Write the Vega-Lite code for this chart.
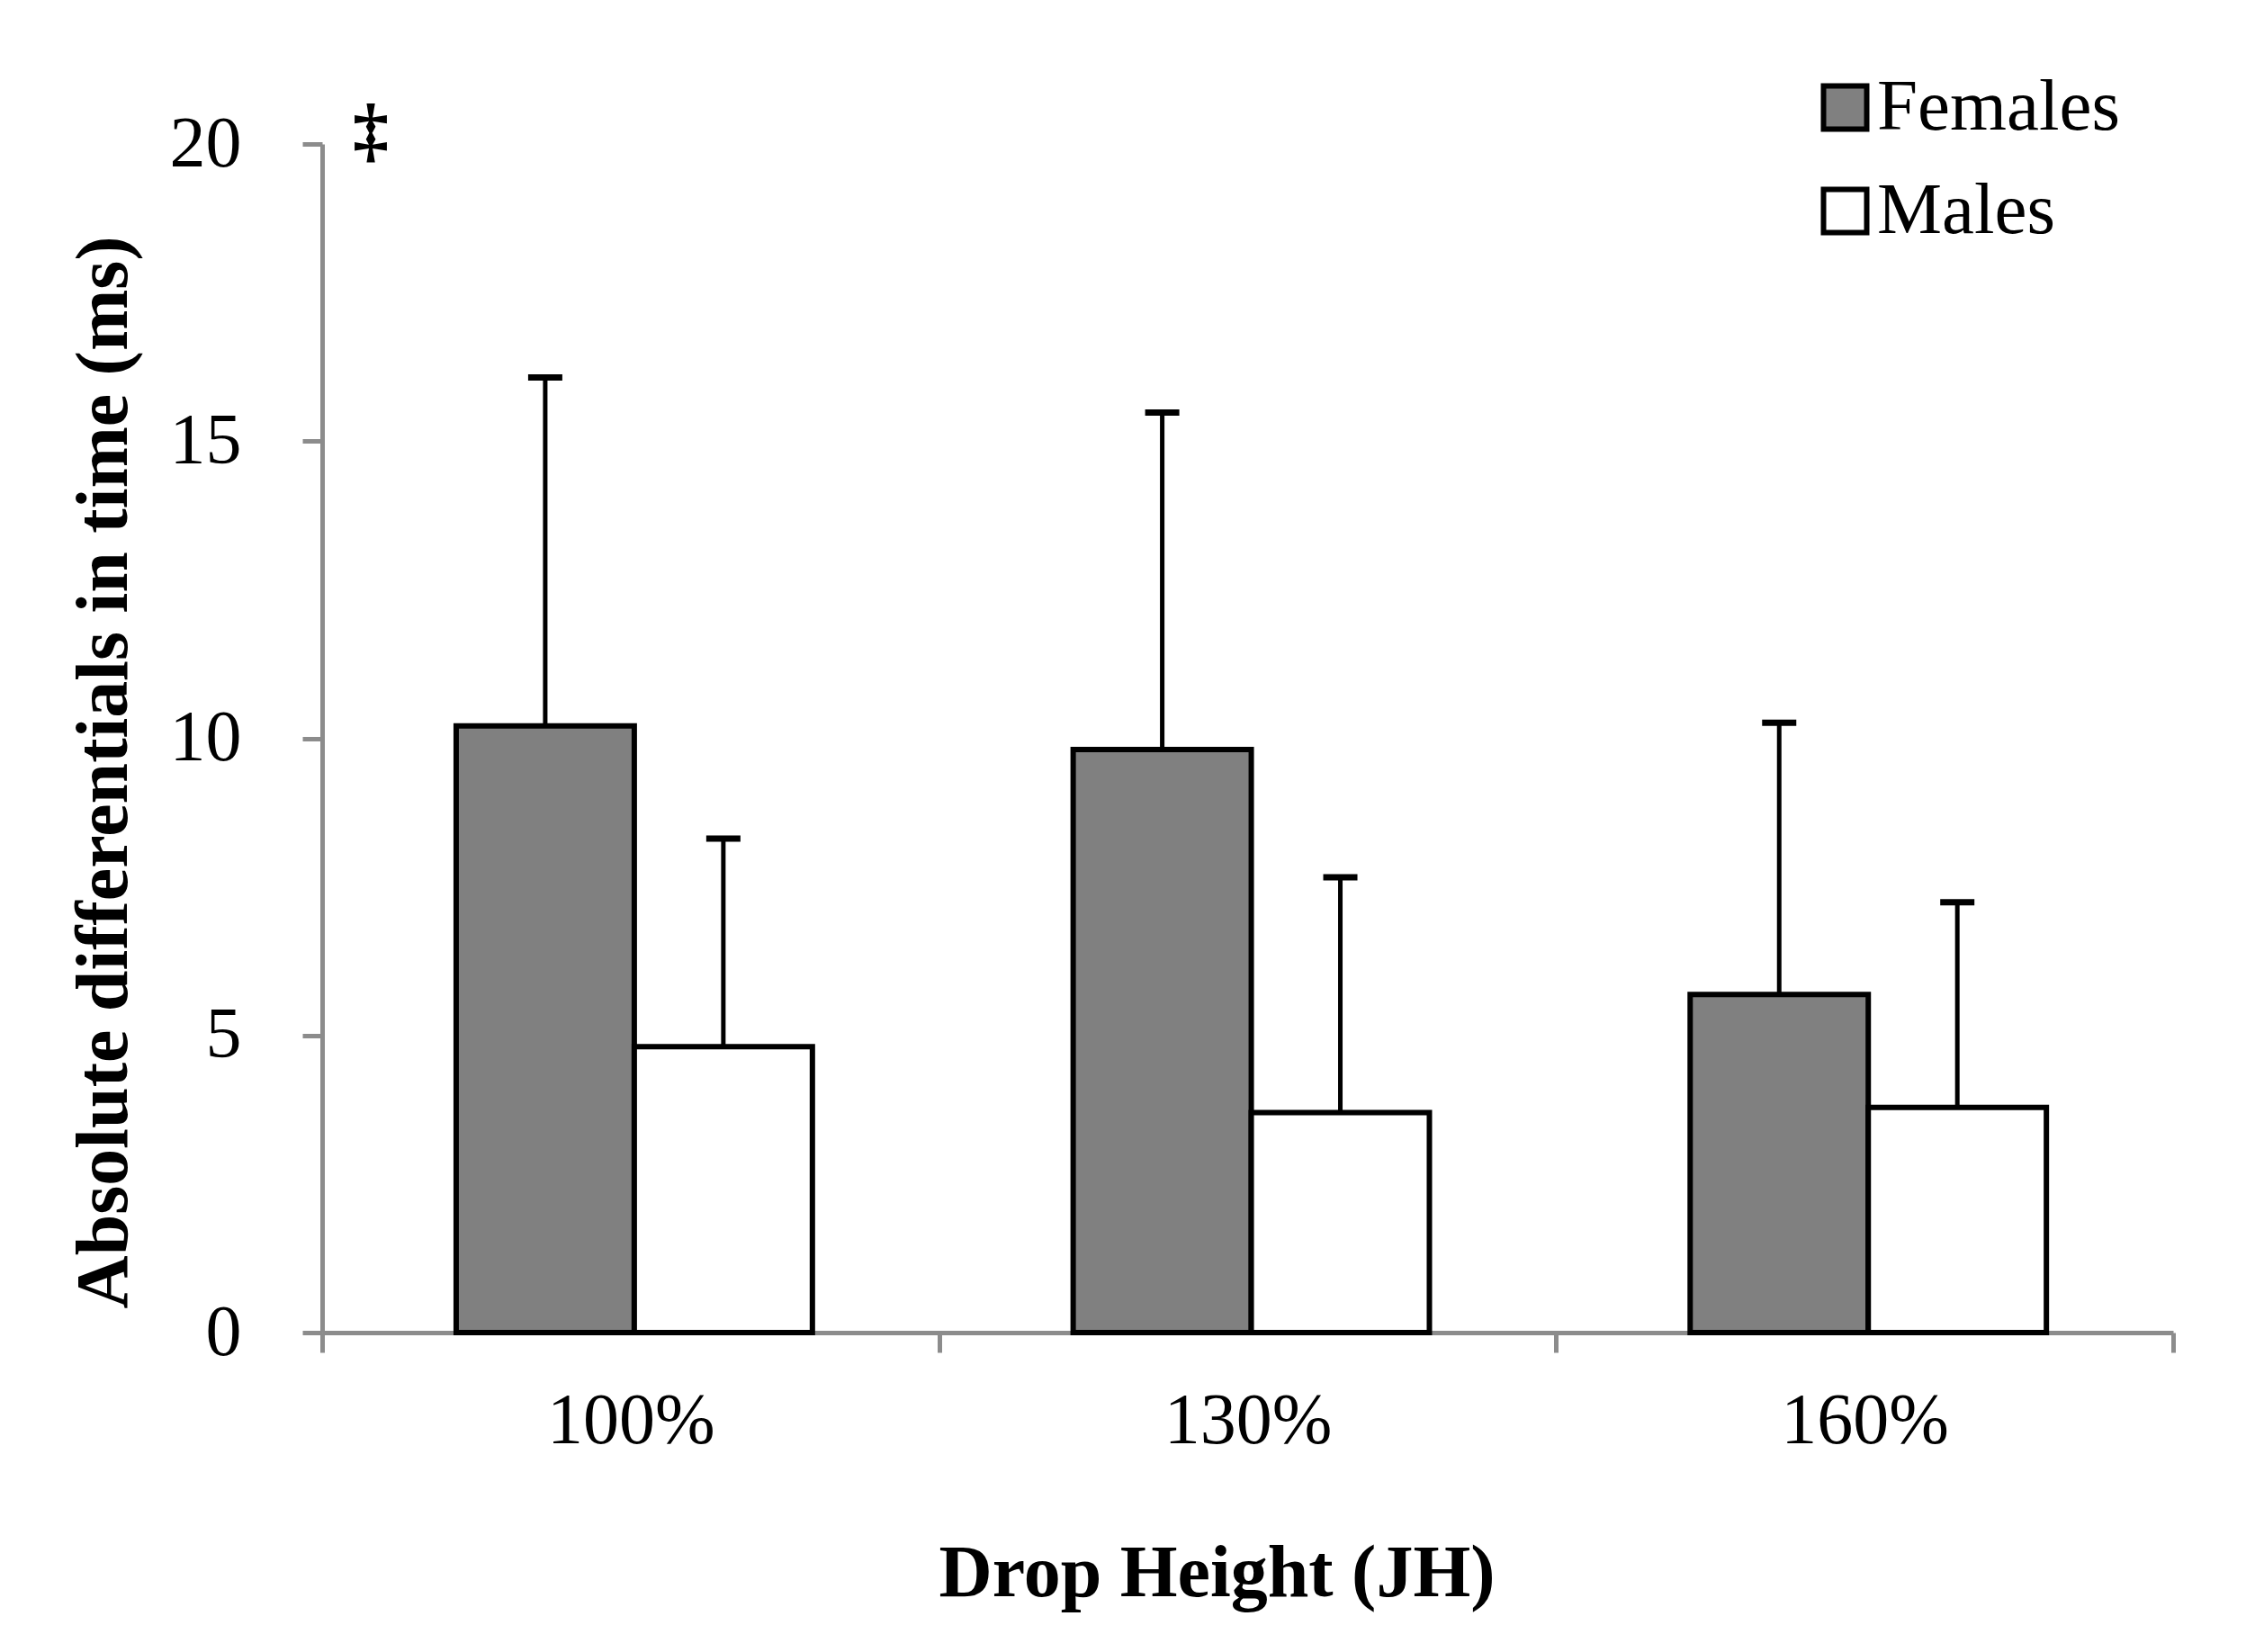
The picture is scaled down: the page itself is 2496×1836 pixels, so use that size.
{
  "$schema": "https://vega.github.io/schema/vega-lite/v6.json",
  "width": 2057,
  "height": 1321,
  "autosize": {"type": "none"},
  "padding": {"left": 358, "top": 160, "right": 81, "bottom": 355},
  "background": "white",
  "config": {"view": {"stroke": null}, "font": "Liberation Serif"},
  "data": {
    "values": [
      {"height": "100%", "sex": "Females", "mean": 10.21, "upper": 16.07},
      {"height": "100%", "sex": "Males", "mean": 4.81, "upper": 8.31},
      {"height": "130%", "sex": "Females", "mean": 9.81, "upper": 15.48},
      {"height": "130%", "sex": "Males", "mean": 3.70, "upper": 7.66},
      {"height": "160%", "sex": "Females", "mean": 5.69, "upper": 10.26},
      {"height": "160%", "sex": "Males", "mean": 3.79, "upper": 7.24}
    ]
  },
  "layer": [
    {
      "mark": {"type": "bar", "stroke": "black", "strokeWidth": 6},
      "encoding": {
        "x": {
          "field": "height", "type": "nominal",
          "scale": {"paddingInner": 0, "paddingOuter": 0},
          "axis": {
            "title": "Drop Height (JH)",
            "tickBand": "extent",
            "domainColor": "#8c8c8c", "domainWidth": 5,
            "tickColor": "#8c8c8c", "tickWidth": 5, "tickSize": 22,
            "labelFont": "Liberation Serif", "labelFontSize": 80, "labelColor": "black",
            "labelBaseline": "alphabetic", "labelPadding": 100, "labelAngle": 0, "labelLimit": 0,
            "titleFont": "Liberation Serif", "titleFontSize": 82, "titleFontWeight": "bold", "titleColor": "black",
            "titleX": 994, "titleY": 292, "titleBaseline": "alphabetic", "titleAlign": "center"
          }
        },
        "xOffset": {
          "field": "sex", "type": "nominal", "sort": ["Females", "Males"],
          "scale": {"paddingInner": 0, "paddingOuter": 0.732, "align": 0.514}
        },
        "y": {
          "field": "mean", "type": "quantitative",
          "scale": {"domain": [0, 20], "nice": false},
          "axis": {
            "title": "Absolute differentials in time (ms)",
            "values": [0, 5, 10, 15, 20],
            "format": "d",
            "grid": false,
            "domainColor": "#8c8c8c", "domainWidth": 5,
            "tickColor": "#8c8c8c", "tickWidth": 5, "tickSize": 22,
            "labelFont": "Liberation Serif", "labelFontSize": 80, "labelColor": "black",
            "labelPadding": 68,
            "titleFont": "Liberation Serif", "titleFontSize": 82, "titleFontWeight": "bold", "titleColor": "black",
            "titleAngle": 270, "titleX": -218, "titleY": 698, "titleBaseline": "alphabetic", "titleAlign": "center"
          }
        },
        "fill": {
          "field": "sex", "type": "nominal",
          "scale": {"domain": ["Females", "Males"], "range": ["#808080", "#ffffff"]},
          "legend": {
            "title": null,
            "orient": "none", "legendX": 1652, "legendY": -81,
            "symbolType": "square", "symbolSize": 2304,
            "symbolStrokeColor": "black", "symbolStrokeWidth": 6,
            "labelFont": "Liberation Serif", "labelFontSize": 81, "labelColor": "black",
            "labelOffset": -5, "labelLimit": 0, "rowPadding": 33, "padding": 0
          }
        }
      }
    },
    {
      "mark": {"type": "rule", "color": "black", "strokeWidth": 5},
      "encoding": {
        "x": {"field": "height", "type": "nominal"},
        "xOffset": {"field": "sex", "type": "nominal", "sort": ["Females", "Males"]},
        "y": {"field": "mean", "type": "quantitative"},
        "y2": {"field": "upper"}
      }
    },
    {
      "mark": {"type": "tick", "color": "black", "opacity": 1, "thickness": 7, "size": 38},
      "encoding": {
        "x": {"field": "height", "type": "nominal"},
        "xOffset": {"field": "sex", "type": "nominal", "sort": ["Females", "Males"]},
        "y": {"field": "upper", "type": "quantitative"}
      }
    },
    {
      "data": {"values": [{"height": "100%", "value": 20.2, "label": "‡"}]},
      "mark": {"type": "text", "font": "Liberation Serif", "fontSize": 80, "fontWeight": "bold", "color": "black", "baseline": "middle", "dx": 54},
      "encoding": {
        "x": {"field": "height", "type": "nominal", "bandPosition": 0},
        "y": {"field": "value", "type": "quantitative"},
        "text": {"field": "label"}
      }
    }
  ]
}
